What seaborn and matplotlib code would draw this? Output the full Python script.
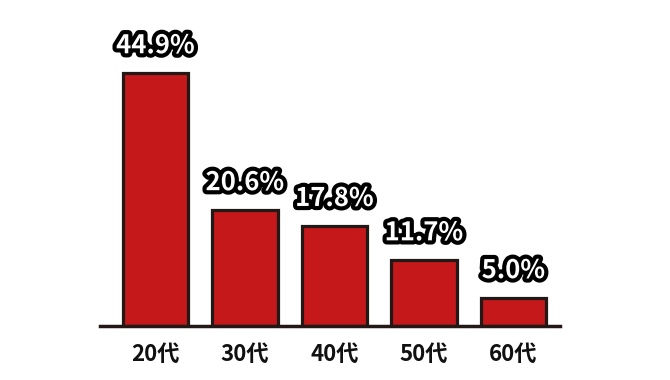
import matplotlib
matplotlib.use("Agg")
import matplotlib.pyplot as plt
import matplotlib.patheffects as pe
import seaborn as sns
import pandas as pd

categories = ["20代", "30代", "40代", "50代", "60代"]
values = [44.9, 20.6, 17.8, 11.7, 5.0]
labels = ["44.9%", "20.6%", "17.8%", "11.7%", "5.0%"]

sns.set_theme(style="white")
plt.rcParams['font.family'] = ['Noto Sans CJK JP', 'DejaVu Sans']

df = pd.DataFrame({"age": categories, "pct": values})

fig = plt.figure(figsize=(6.7, 3.8), dpi=100)
ax = fig.add_axes([100/670, 54/380, 460/670, 306/380])

sns.barplot(data=df, x="age", y="pct", color="#c4181b", saturation=1,
            width=0.73, edgecolor="#231815", linewidth=2.3, ax=ax)

ax.set_xlim(-0.62, 4.52)
ax.set_ylim(0, 54.3)
for s in ["top", "right", "left"]:
    ax.spines[s].set_visible(False)
ax.spines["bottom"].set_linewidth(2.5)
ax.spines["bottom"].set_color("#231815")
ax.set_yticks([])
ax.set_xlabel("")
ax.set_ylabel("")
ax.tick_params(axis="x", length=0, pad=12)
for t in ax.get_xticklabels():
    t.set_fontsize(16)
    t.set_fontweight("bold")
    t.set_color("#111111")

for i, (v, lab) in enumerate(zip(values, labels)):
    ax.text(i, v + 3.5, lab, ha="center", va="baseline", fontsize=18.5,
            fontweight="bold", color="white",
            path_effects=[pe.withStroke(linewidth=6, foreground="black")])

fig.savefig("out.png", dpi=100, facecolor="white")
